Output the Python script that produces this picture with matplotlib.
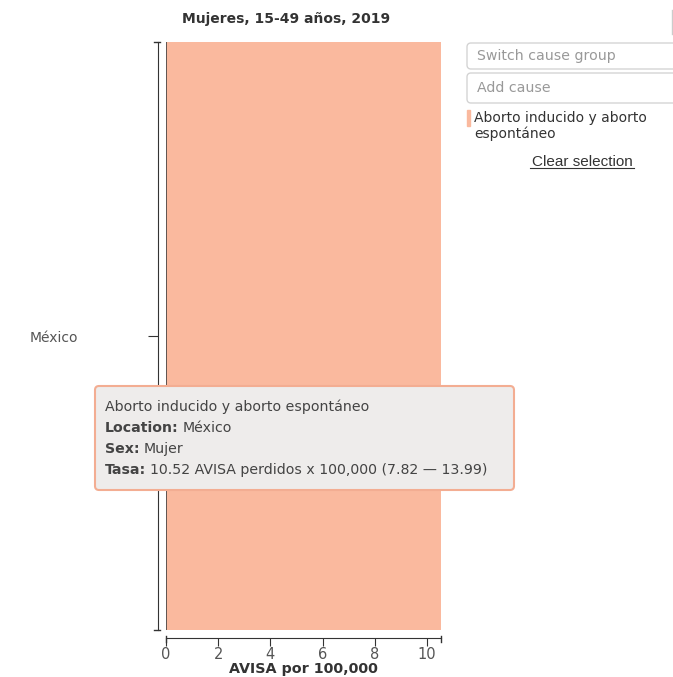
import matplotlib.pyplot as plt
from matplotlib.patches import FancyBboxPatch, Rectangle

plt.rcParams['font.family'] = ['DejaVu Sans']

locations = ['México']
values = [10.52]
lower = [7.82]
upper = [13.99]
cause = 'Aborto inducido y aborto espontáneo'
sex = 'Mujer'
x_ticks = [0, 2, 4, 6, 8, 10]

bar_color = '#fab99e'
text_color = '#555555'

fig = plt.figure(figsize=(6.73, 6.77), dpi=100)
W, H = 673, 677


def fx(px):
    return px / W


def fy(py):
    return 1 - py / H


ax = fig.add_axes([fx(166), fy(630), fx(440.6) - fx(166), fy(42) - fy(630)])
ax.barh(locations, values, height=1.0, color=bar_color, edgecolor='none')
ax.axvline(0, color='#444444', lw=1.2)
ax.set_xlim(0, max(values))
ax.set_ylim(-0.5, 0.5)

for s in ['top', 'right']:
    ax.spines[s].set_visible(False)
ax.spines['left'].set_position(('outward', 6))
ax.spines['bottom'].set_position(('outward', 6))
ax.spines['left'].set_color('#333333')
ax.spines['bottom'].set_color('#333333')

ax.set_xticks(x_ticks)
ax.tick_params(axis='x', colors='#333333', labelcolor=text_color, labelsize=10.5, length=6, pad=0)
ax.tick_params(axis='y', colors='#333333', labelcolor=text_color, labelsize=10, length=7, pad=68)
for lab in ax.get_yticklabels():
    lab.set_horizontalalignment('center')

# outer end ticks on the axis lines
for yp in (42, 630):
    fig.add_artist(plt.Line2D([fx(154), fx(160)], [fy(yp)] * 2, color='#333333', lw=1))
for xp in (166, 440.6):
    fig.add_artist(plt.Line2D([fx(xp)] * 2, [fy(636), fy(642)], color='#333333', lw=1))

ax.set_xlabel('AVISA por 100,000', fontsize=10.3, fontweight='bold', color='#333333', labelpad=0)
fig.text(fx(286), fy(19), 'Mujeres, 15-49 años, 2019', ha='center', va='center',
         fontsize=10, fontweight='bold', color='#333333')

# tooltip
box = FancyBboxPatch((fx(95), fy(490)), fx(514) - fx(95), fy(386) - fy(490),
                     boxstyle='round,pad=0,rounding_size=0.006', transform=fig.transFigure,
                     facecolor='#eeeceb', edgecolor='#f3ad92', lw=1.5, zorder=5)
fig.add_artist(box)
lines = [
    (None, cause),
    ('Location:', locations[0]),
    ('Sex:', sex),
    ('Tasa:', f'{values[0]:.2f} AVISA perdidos x 100,000 ({lower[0]:.2f} — {upper[0]:.2f})'),
]
fig.canvas.draw()
for i, (bold, rest) in enumerate(lines):
    y = fy(407 + 21 * i)
    if bold is None:
        fig.text(fx(105), y, rest, fontsize=10.2, color='#444444', va='center', zorder=6)
    else:
        t = fig.text(fx(105), y, bold, fontsize=10.2, color='#444444', fontweight='bold',
                     va='center', zorder=6)
        bb = t.get_window_extent(renderer=fig.canvas.get_renderer())
        fig.text((bb.x1 + 4) / W, y, rest, fontsize=10.2, color='#444444', va='center', zorder=6)

# right panel controls
for y0, y1, label in [(43, 69, 'Switch cause group'), (73, 103, 'Add cause')]:
    b = FancyBboxPatch((fx(467), fy(y1)), fx(690) - fx(467), fy(y0) - fy(y1),
                       boxstyle='round,pad=0,rounding_size=0.006', transform=fig.transFigure,
                       facecolor='white', edgecolor='#d4d4d4', lw=1, clip_on=False)
    fig.add_artist(b)
    fig.text(fx(477), fy((y0 + y1) / 2), label, fontsize=10.2, color='#999999', va='center')

fig.add_artist(Rectangle((fx(467), fy(126)), fx(3), fy(110) - fy(126),
                         transform=fig.transFigure, color=bar_color))
fig.text(fx(474), fy(118), 'Aborto inducido y aborto', fontsize=10, color='#333333', va='center')
fig.text(fx(474), fy(134), 'espontáneo', fontsize=10, color='#333333', va='center')
fig.text(fx(582), fy(162), 'Clear selection', fontsize=11, color='#333333', va='center',
         ha='center', family='Liberation Sans')
fig.add_artist(plt.Line2D([fx(530), fx(634)], [fy(168), fy(168)], color='#333333', lw=0.8))

# edge of a cut-off control at the top right
fig.add_artist(plt.Line2D([fx(671.5), fx(671.5)], [fy(10), fy(34)], color='#cccccc', lw=1))

fig.savefig('out.png', dpi=100)
